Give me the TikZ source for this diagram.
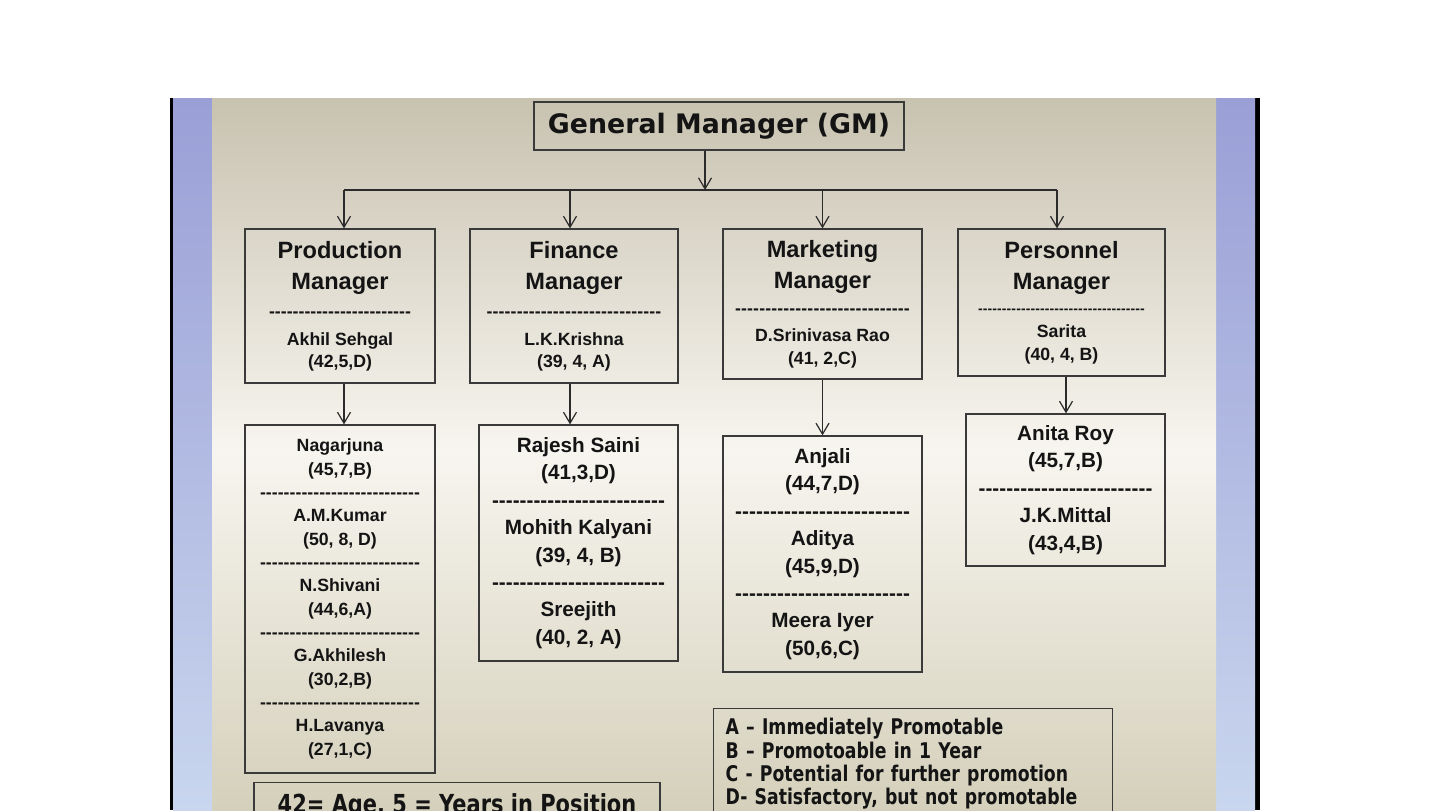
\documentclass[tikz,border=0pt]{standalone}
\usepackage{fontspec}
\setmainfont{Liberation Sans}
\newfontfamily\gmfont{DejaVu Sans}
\newfontfamily\keyfont[FakeStretch=0.8]{DejaVu Sans}
\usetikzlibrary{arrows.meta}

\definecolor{boxline}{HTML}{3A3A3A}
\definecolor{ink}{HTML}{141414}
\definecolor{wirecol}{HTML}{2B2B2B}
\definecolor{bgtop}{HTML}{C8C2B0}
\definecolor{bgmid}{HTML}{F7F5EF}
\definecolor{bgbot}{HTML}{D5D0BB}
\definecolor{sidetop}{HTML}{9A9FD6}
\definecolor{sidemid}{HTML}{BFC9F2}
\definecolor{sidebot}{HTML}{C9D6EE}

\newcommand\titlesz{\fontsize{11.8}{14}\selectfont}
\newcommand\namesz{\fontsize{8.85}{11}\selectfont}
\newcommand\staffsz{\fontsize{10.35}{13.7}\selectfont}
\newcommand\dashrow[1]{\hbox to #1{\xleaders\hbox{-}\hfill}}

\tikzset{
    box/.style={draw=boxline, line width=0.65pt, align=center, inner sep=0pt, text=ink},
    head/.style={box, font=\bfseries\namesz},
    staff/.style={box, font=\bfseries\staffsz},
    staff small/.style={box, font=\bfseries\fontsize{8.85}{11.67}\selectfont},
    key/.style={box},
    wire/.style={draw=wirecol, line width=0.6pt}
  }

\begin{document}
\begin{tikzpicture}[x=0.5pt, y=-0.5pt, >={Straight Barb[length=5.5pt,width=6.5pt]}]
    % slide background
    \clip (0,0) rectangle (1440,810);
    \fill[white] (0,0) rectangle (1440,810);
    \fill[black] (170,98) rectangle (1260,810);
    \shade[top color=sidetop, middle color=sidemid, bottom color=sidebot] (173,98) rectangle (212,810);
    \shade[top color=sidetop, middle color=sidemid, bottom color=sidebot] (1216,98) rectangle (1255,810);
    \shade[top color=bgtop, bottom color=bgmid] (212,98) rectangle (1216,451);
    \shade[top color=bgmid, bottom color=bgbot] (212,450) rectangle (1216,810);

    \node[box, font=\gmfont\bfseries\fontsize{13.4}{16}\selectfont, minimum width=185pt, minimum height=24pt] (gm) at (719,126) {General Manager (GM)};

    % managers
    \node[head, minimum width=95pt, minimum height=77pt] (pm) at (340,306)
        {{\titlesz Production}\\[4.5pt]{\titlesz Manager}\\[3.25pt]\dashrow{71pt}\\[2.7pt]Akhil Sehgal\\(42,5,D)};
    \node[head, minimum width=104pt, minimum height=77pt] (fm) at (574,306)
        {{\titlesz Finance}\\[4.5pt]{\titlesz Manager}\\[3.25pt]\dashrow{87.5pt}\\[2.7pt]L.K.Krishna\\(39, 4, A)};
    \node[head, minimum width=99.5pt, minimum height=75pt] (mm) at (822.5,304)
        {{\titlesz Marketing}\\[4.5pt]{\titlesz Manager}\\[2.35pt]\dashrow{87.5pt}\\[2.1pt]D.Srinivasa Rao\\[0.5pt](41, 2,C)};
    \node[head, minimum width=103.5pt, minimum height=73.5pt] (pn) at (1061.5,302.5)
        {{\titlesz Personnel}\\[4.5pt]{\titlesz Manager}\\[1.25pt]{\fontsize{7}{8}\selectfont\dashrow{83.5pt}}\\[0.7pt]Sarita\\[0.5pt](40, 4, B)};

    % staff under each manager
    \node[staff small, minimum width=95pt, minimum height=174pt] (ps) at (340,599)
        {Nagarjuna\\(45,7,B)\\\dashrow{80pt}\\A.M.Kumar\\(50, 8, D)\\\dashrow{80pt}\\N.Shivani\\(44,6,A)\\\dashrow{80pt}\\G.Akhilesh\\(30,2,B)\\\dashrow{80pt}\\H.Lavanya\\(27,1,C)};
    \node[staff, minimum width=99.5pt, minimum height=118pt] (fs) at (578.5,543)
        {Rajesh Saini\\(41,3,D)\\\dashrow{86.5pt}\\Mohith Kalyani\\(39, 4, B)\\\dashrow{86.5pt}\\Sreejith\\(40, 2, A)};
    \node[staff, minimum width=99.5pt, minimum height=118pt] (ms) at (822.5,554)
        {Anjali\\(44,7,D)\\\dashrow{87.5pt}\\Aditya\\(45,9,D)\\\dashrow{87.5pt}\\Meera Iyer\\(50,6,C)};
    \node[staff, minimum width=99.5pt, minimum height=76pt] (ns) at (1065.5,490)
        {Anita Roy\\(45,7,B)\\\dashrow{87pt}\\J.K.Mittal\\(43,4,B)};

    % keys
    \node[key, anchor=north west, align=left, text width=187.5pt, inner xsep=6pt, inner ysep=4.95pt, font=\keyfont\bfseries\fontsize{10.8}{11.65}\selectfont] (grades) at (713,708)
        {A – Immediately Promotable\\B – Promotoable in 1 Year\\C - Potential for further promotion\\D- Satisfactory, but not promotable};
    \node[key, anchor=north, minimum width=203pt, inner ysep=5.5pt, font=\keyfont\bfseries\fontsize{13.1}{15}\selectfont] (agekey) at (457,782) {42= Age, 5 = Years in Position};

    % connectors
    \coordinate (hub) at (705,190);
    \draw[wire,->] (hub |- gm.south) -- (hub);
    \draw[wire] ([xshift=2pt]pm.north |- hub) -- ([xshift=-2.25pt]pn.north |- hub);
    \foreach \n/\d in {pm/2,fm/-2,mm/0,pn/-2.25}
        \draw[wire,->] ([xshift=\d pt]\n.north |- hub) -- ([xshift=\d pt]\n.north);
    \foreach \a/\b/\d in {pm/ps/2,fm/fs/-2,mm/ms/0,pn/ns/2.25}
        \draw[wire,->] ([xshift=\d pt]\a.south) -- ([xshift=\d pt]\a.south |- \b.north);
%    \draw[wire,->] (pn) -- (ns);
\end{tikzpicture}
\end{document}
